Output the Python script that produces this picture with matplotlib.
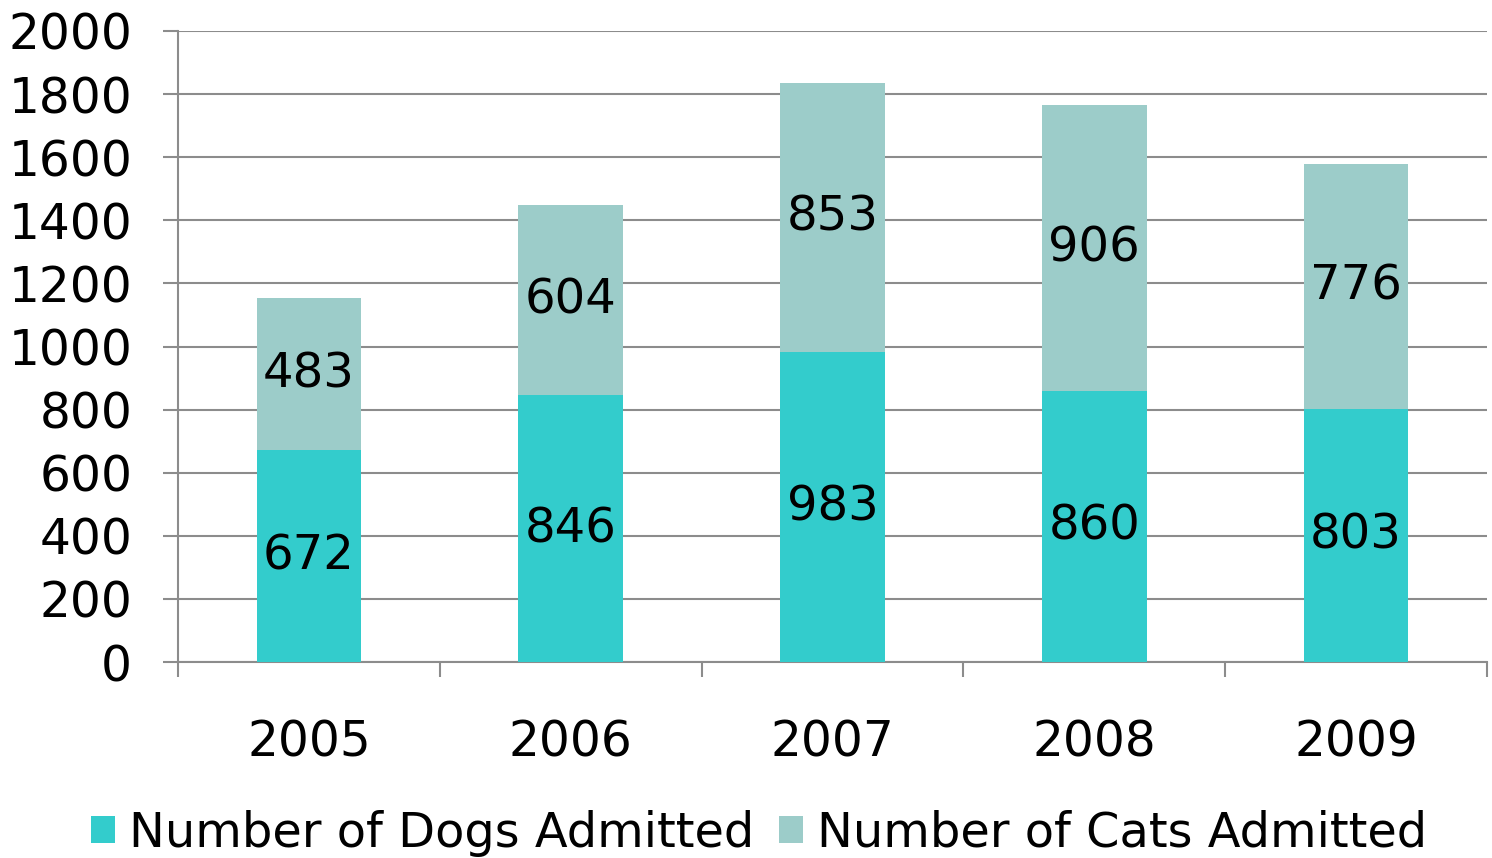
import matplotlib.pyplot as plt
import numpy as np

years = ['2005', '2006', '2007', '2008', '2009']
dogs = [672, 846, 983, 860, 803]
cats = [483, 604, 853, 906, 776]

dog_color = '#33CCCC'
cat_color = '#9CCCC9'
grid_color = '#8C8C8C'

fig = plt.figure(figsize=(14.92, 8.58), dpi=100)
ax = fig.add_axes([0.1193, 0.2284, 0.8773, 0.7355])

x = np.arange(len(years))
width = 0.4

b1 = ax.bar(x, dogs, width, color=dog_color, label='Number of Dogs Admitted', zorder=3)
b2 = ax.bar(x, cats, width, bottom=dogs, color=cat_color, label='Number of Cats Admitted', zorder=3)

# value labels in the middle of each segment
for xi, d, c in zip(x, dogs, cats):
    ax.text(xi, d / 2, str(d), ha='center', va='center', fontsize=34.7, zorder=4)
    ax.text(xi, d + c / 2, str(c), ha='center', va='center', fontsize=34.7, zorder=4)

ax.set_xlim(-0.5, len(years) - 0.5)
ax.set_ylim(0, 2000)
ax.set_yticks(range(0, 2001, 200))
ax.yaxis.grid(True, color=grid_color, linewidth=1.5, zorder=0)

# category labels centred, tick marks at the boundaries
ax.set_xticks(x)
ax.set_xticklabels(years)
ax.set_xticks(np.arange(-0.5, len(years)), minor=True)
ax.tick_params(axis='x', which='major', length=0, pad=41, labelsize=35)
ax.tick_params(axis='x', which='minor', length=11, width=1.5, color=grid_color, direction='out')
ax.tick_params(axis='y', length=11, width=1.5, color=grid_color, labelsize=35, pad=22)

for s in ['top', 'right']:
    ax.spines[s].set_visible(False)
for s in ['left', 'bottom']:
    ax.spines[s].set_color(grid_color)
    ax.spines[s].set_linewidth(1.5)

ax.legend(loc='center', bbox_to_anchor=(0.444, -0.271), ncol=2, frameon=False,
          fontsize=34.5, handlelength=0.5, handleheight=0.5, handletextpad=0.3,
          columnspacing=0.5, borderpad=0)

fig.savefig('out.png', dpi=100)
